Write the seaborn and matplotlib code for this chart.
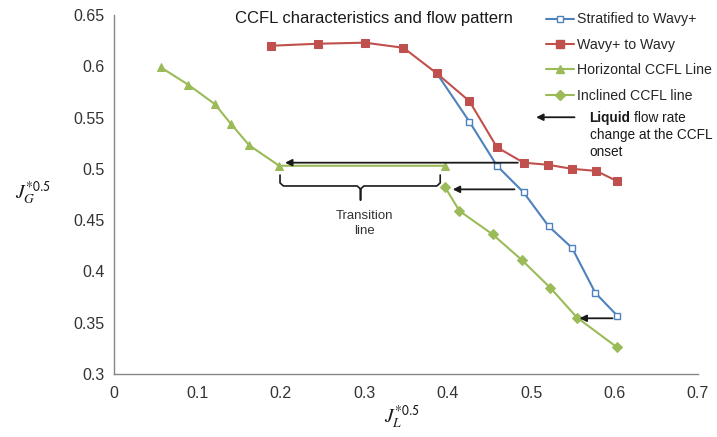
import matplotlib
matplotlib.use("Agg")
import matplotlib.pyplot as plt
import numpy as np
import pandas as pd
import seaborn as sns
from matplotlib.lines import Line2D

# Flow-regime transition boundaries
strat_x = [0.387, 0.426, 0.459, 0.491, 0.521, 0.549, 0.577, 0.603]
strat_y = [0.593, 0.546, 0.503, 0.477, 0.444, 0.423, 0.379, 0.357]

wavy_x = [0.188, 0.245, 0.301, 0.347, 0.387, 0.426, 0.459, 0.491, 0.520, 0.549, 0.578, 0.603]
wavy_y = [0.620, 0.622, 0.623, 0.618, 0.593, 0.566, 0.521, 0.506, 0.504, 0.500, 0.498, 0.488]

# CCFL lines
horiz_x = [0.056, 0.089, 0.121, 0.140, 0.162, 0.198, 0.397]
horiz_y = [0.599, 0.582, 0.563, 0.544, 0.523, 0.503, 0.503]

incl_x = [0.397, 0.414, 0.454, 0.489, 0.523, 0.555, 0.603]
incl_y = [0.482, 0.459, 0.436, 0.411, 0.384, 0.355, 0.326]

series_names = ["Stratified to Wavy+", "Wavy+ to Wavy", "Horizontal CCFL Line", "Inclined CCFL line"]
x_ticks = [0, 0.1, 0.2, 0.3, 0.4, 0.5, 0.6, 0.7]
y_ticks = [0.3, 0.35, 0.4, 0.45, 0.5, 0.55, 0.6, 0.65]

BLUE = "#4F81BD"
RED = "#C0504D"
GREEN = "#9BBB59"
INK = "#1a1a1a"

sns.set_theme(style="white")
plt.rcParams["font.family"] = ["Liberation Sans", "DejaVu Sans"]
plt.rcParams["mathtext.fontset"] = "stix"

fig = plt.figure(figsize=(7.17, 4.37), dpi=100)
ax = fig.add_axes([0.159, 0.1442, 0.8145, 0.8215])

frames = {
    series_names[0]: (strat_x, strat_y),
    series_names[1]: (wavy_x, wavy_y),
    series_names[2]: (horiz_x, horiz_y),
    series_names[3]: (incl_x, incl_y),
}
styles = {
    series_names[0]: dict(color=BLUE, marker="s", markersize=4.6, markerfacecolor="white",
                          markeredgecolor=BLUE, markeredgewidth=1.0),
    series_names[1]: dict(color=RED, marker="s", markersize=5.2, markerfacecolor=RED,
                          markeredgecolor=RED),
    series_names[2]: dict(color=GREEN, marker="^", markersize=5.5, markerfacecolor=GREEN,
                          markeredgecolor=GREEN),
    series_names[3]: dict(color=GREEN, marker="D", markersize=4.8, markerfacecolor=GREEN,
                          markeredgecolor=GREEN),
}

handles = []
for name in series_names:
    xs, ys = frames[name]
    df = pd.DataFrame({"x": xs, "y": ys})
    st = styles[name]
    sns.lineplot(data=df, x="x", y="y", sort=False, estimator=None, ax=ax,
                 linewidth=1.5, **st)
    handles.append(Line2D([], [], linewidth=1.5, **st))

ax.set_xlim(0, 0.7)
ax.set_ylim(0.3, 0.65)
ax.set_xticks(x_ticks)
ax.set_xticklabels([f"{t:g}" for t in x_ticks])
ax.set_yticks(y_ticks)
ax.set_yticklabels([f"{t:g}" for t in y_ticks])
for s in ["top", "right"]:
    ax.spines[s].set_visible(False)
for s in ["left", "bottom"]:
    ax.spines[s].set_color("#868686")
    ax.spines[s].set_linewidth(1.0)
ax.tick_params(axis="both", direction="out", length=3, width=1.0, color="#868686",
               labelsize=11.5, labelcolor="#333333")
ax.tick_params(axis="x", pad=6)
ax.tick_params(axis="y", pad=4)

ax.set_xlabel(r"$J_L^{*\mathsf{0.5}}$", fontsize=14, color=INK)
ax.xaxis.set_label_coords((402 - 114) / 584.5, -(417 - 374) / 359)
ax.xaxis.label.set_va("center")
ax.set_ylabel(r"$J_G^{*\mathsf{0.5}}$", fontsize=14, color=INK, rotation=0)
ax.yaxis.set_label_coords((33 - 114) / 584.5, (374 - 193) / 359)
ax.yaxis.label.set_va("center")
ax.yaxis.label.set_ha("center")

fig.text(235 / 717, 1 - 18 / 437, "CCFL characteristics and flow pattern",
         fontsize=12, color=INK, va="center", ha="left")

fig.legend(handles, series_names, loc="upper left", bbox_to_anchor=(546 / 717, 1 - 12.5 / 437),
           frameon=False, fontsize=10.2, handlelength=2.0, handletextpad=0.2,
           labelspacing=0.8, borderaxespad=0, borderpad=0)

arrow = dict(arrowstyle="-|>", color=INK, lw=1.3, mutation_scale=10, shrinkA=0, shrinkB=0)
ax.annotate("", xy=(0.205, 0.506), xytext=(0.484, 0.506), arrowprops=arrow)
ax.annotate("", xy=(0.406, 0.480), xytext=(0.480, 0.480), arrowprops=arrow)
ax.annotate("", xy=(0.558, 0.3543), xytext=(0.5976, 0.3543), arrowprops=arrow)
ax.annotate("", xy=(0.506, 0.5503), xytext=(0.552, 0.5503), arrowprops=arrow)

# Note beside the legend arrow
liquid = ax.text(0.570, 0.5455, "Liquid", fontsize=9.8, fontweight="bold", color=INK,
                 va="baseline", ha="left")
ax.annotate("flow rate", xy=(1, 0), xycoords=liquid, xytext=(2.5, 0),
            textcoords="offset points", fontsize=9.8, color=INK, va="bottom", ha="left")
ax.text(0.570, 0.533, "change at the CCFL", fontsize=9.8, color=INK, va="center", ha="left")
ax.text(0.570, 0.5164, "onset", fontsize=9.8, color=INK, va="center", ha="left")

# Brace under the transition line
bx0, bx1, bxc = 0.199, 0.391, 0.2955
by_top, by_mid, by_tip = 0.494, 0.4833, 0.4696
r = 0.004
ax.plot([bx0, bx0, bx0 + r, bxc - r, bxc, bxc, bxc, bxc + r, bx1 - r, bx1, bx1],
        [by_top, by_mid + 0.003, by_mid, by_mid, by_mid - 0.003, by_tip, by_mid - 0.003,
         by_mid, by_mid, by_mid + 0.003, by_top],
        color=INK, lw=1.2, solid_joinstyle="round")
ax.text(0.3006, 0.447, "Transition\nline", fontsize=9.5, color="#333333", ha="center", va="center",
        linespacing=1.35)

fig.savefig("out.png", dpi=100)
